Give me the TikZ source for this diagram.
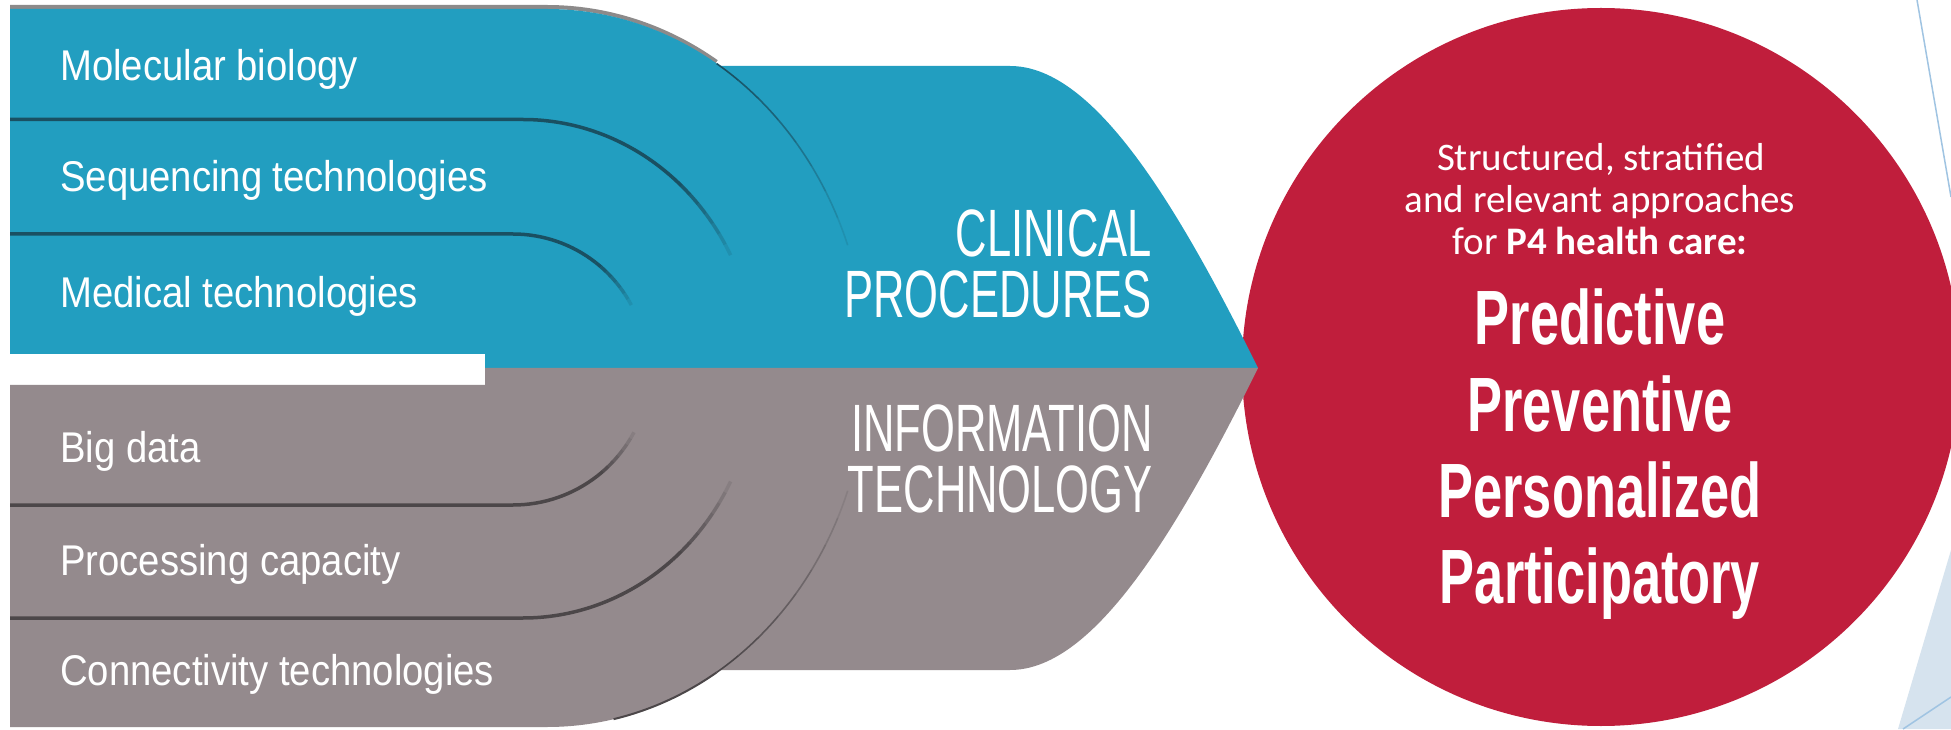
\documentclass[tikz,border=0pt]{standalone}
\usepackage{fontspec}
\newfontfamily\labelfont[FakeStretch=0.89]{Liberation Sans}
\newfontfamily\capfont[FakeStretch=0.65]{Liberation Sans}
\newfontfamily\bigfont[FakeStretch=0.68]{Liberation Sans}
\newfontfamily\circfont{Carlito}
\definecolor{pblue}{RGB}{34,158,192}
\definecolor{pgray}{RGB}{148,138,141}
\definecolor{pred}{RGB}{192,30,60}
\definecolor{sepblue}{RGB}{26,80,98}
\definecolor{sepgray}{RGB}{76,71,73}
\definecolor{edgegray}{RGB}{140,138,138}
\definecolor{decoline}{RGB}{160,196,226}
\definecolor{decofill}{RGB}{214,227,238}
\newcommand\fadearc[7]{%
  \foreach \k in {0,...,7}{%
    \pgfmathsetmacro\fa{#6+(#7-#6)*\k/8}%
    \pgfmathsetmacro\fb{#6+(#7-#6)*(\k+1)/8}%
    \pgfmathsetmacro\fo{1-\k/8.5}%
    \draw[#1,opacity=\fo] (#2,#3) ++(\fa:#4 and #5) arc[start angle=\fa,end angle=\fb,x radius=#4,y radius=#5];
  }%
}
\begin{document}
\begin{tikzpicture}[x=1pt,y=1pt,
  itemlabel/.style={anchor=base west,inner sep=0pt,text=white,font=\labelfont\fontsize{43}{50}\selectfont},
  caplabel/.style={anchor=base east,inner sep=0pt,text=white,font=\capfont\fontsize{67}{61}\selectfont},
  circsmall/.style={anchor=base,inner sep=0pt,text=white,font=\circfont\fontsize{39}{42}\selectfont},
  circbig/.style={anchor=base,inner sep=0pt,text=white,font=\bigfont\bfseries\fontsize{77}{86}\selectfont},
  bsep/.style={sepblue,line width=3.5pt},
  gsep/.style={sepgray,line width=3.5pt},
  bshadow/.style={sepblue,line width=1.6pt},
  gshadow/.style={sepgray,line width=1.6pt}]
\fill[white] (0,0) rectangle (1951,729);
\useasboundingbox (0,0) rectangle (1951,729);
\clip (0,0) rectangle (1951,729);

% right-side slide decoration
\fill[decofill] (1898,0) -- (1951,179) -- (1951,0) -- cycle;
\draw[decoline,line width=1.5pt] (1903,0) -- (1951,32);
\draw[decoline,line width=1.5pt] (1917,729) -- (1951,532);

% gray edge on top of blue pipe
\draw[edgegray,line width=4pt] (10,722) -- (547,722) arc[start angle=90,end angle=58,x radius=320,y radius=361];

% pipes
\fill[pblue] (10,720) -- (547,720) arc[start angle=90,end angle=0,x radius=320,y radius=359] -- (485,361) -- (485,375) -- (10,375) -- cycle;
\fill[pgray] (10,2) -- (547,2) arc[start angle=-90,end angle=0,x radius=320,y radius=359] -- (485,361) -- (485,344) -- (10,344) -- cycle;
\draw[sepgray,line width=2pt] (547,361) ++(-78:320 and 359) arc[start angle=-78,end angle=-58,x radius=320,y radius=359];

% circle
\node[circle,fill=pred,minimum size=718pt,inner sep=0pt] (circ) at (1601,362) {};

% arrows
\fill[pblue] (650,663) -- (1010,663) .. controls (1090,663) and (1170,539) .. (1258,361) -- (650,361) -- cycle;
\fill[pgray] (650,59) -- (1010,59) .. controls (1090,59) and (1170,183) .. (1258,361) -- (650,361) -- cycle;

% separators blue
\draw[bsep] (10,609.5) -- (523,609.5) arc[start angle=90,end angle=50,x radius=233,y radius=248.5];
\fadearc{bsep}{523}{361}{233}{248.5}{50}{27}
\draw[bsep] (10,495) -- (513,495) arc[start angle=90,end angle=52,radius=134];
\fadearc{bsep}{513}{361}{134}{134}{52}{28}
% separators gray
\draw[gsep] (10,224) -- (513,224) arc[start angle=-90,end angle=-52,radius=137];
\fadearc{gsep}{513}{361}{137}{137}{-52}{-28}
\draw[gsep] (10,111) -- (523,111) arc[start angle=-90,end angle=-50,x radius=233,y radius=250];
\fadearc{gsep}{523}{361}{233}{250}{-50}{-27}
% outer edges continuing over the arrows
\fadearc{bshadow}{547}{361}{320}{359}{58}{20}
\fadearc{gshadow}{547}{361}{320}{359}{-58}{-20}

% left labels
\node[itemlabel] (l1) at (60,648) {Molecular biology};
\node[itemlabel] (l2) at (60,537) {Sequencing technologies};
\node[itemlabel] (l3) at (60,421) {Medical technologies};
\node[itemlabel] (l4) at (60,267) {Big data};
\node[itemlabel] (l5) at (60,154) {Processing capacity};
\node[itemlabel] (l6) at (60,44) {Connectivity technologies};

% arrow labels
\node[caplabel] (c1) at (1152,472) {CLINICAL};
\node[caplabel] (c2) at (1152,411) {PROCEDURES};
\node[caplabel] (i1) at (1153,278) {INFORMATION};
\node[caplabel] (i2) at (1153,217) {TECHNOLOGY};

% circle text
\node[circsmall] (s1) at (1601,558) {Structured, stratified};
\node[circsmall] (s2) at (1600,516) {and relevant approaches};
\node[circsmall] (s3) at (1600,474) {for \textbf{P4 health care:}};
\node[circbig] (p1) at (1600,384) {Predictive};
\node[circbig] (p2) at (1600,298) {Preventive};
\node[circbig] (p3) at (1600,212) {Personalized};
\node[circbig] (p4) at (1600,126) {Participatory};
\end{tikzpicture}
\end{document}
